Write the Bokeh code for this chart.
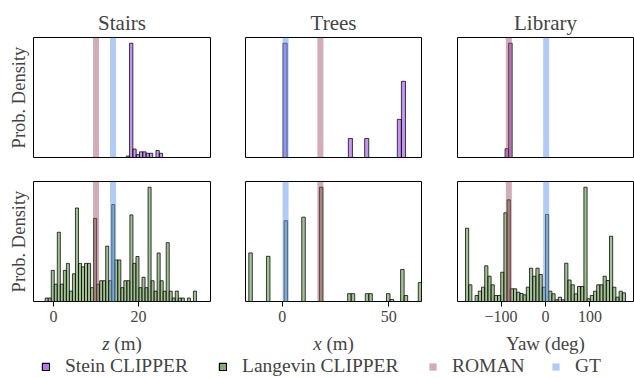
import numpy as np
from bokeh.plotting import figure
from bokeh.models import (Range1d, FixedTicker, Span, Legend, LegendItem, CustomJSTickFormatter,
                          ColumnDataSource, Label)
from bokeh.layouts import column, row
from bokeh.embed import file_html
from bokeh.resources import INLINE

FONT = "Liberation Serif"

# ---------------- data ----------------
titles = ["Stairs", "Trees", "Library"]
x_label_var = ["z", "x", None]          # italic variable part of each x label
x_label_rest = ["(m)", "(m)", "Yaw (deg)"]
y_label = "Prob. Density"
x_ticks = [[0, 20], [0, 50], [-100, 0, 100]]
x_limits = [(-4.7, 36.9), (-17.2, 65.3), (-198.0, 198.0)]
roman_est = [10.0, 17.9, -82.5]
gt_val = [14.0, 1.6, 1.5]
series_names = ["Stein CLIPPER", "Langevin CLIPPER", "ROMAN", "GT"]

# Stein CLIPPER histograms (top row): bin start, bin width, heights
stein_stairs_start, stein_stairs_width = 17.1, 0.776
stein_stairs = [1, 81, 6, 2, 4, 4, 3, 3, 0, 5, 3]
stein_trees_start, stein_trees_width = 0.4, 1.913
stein_trees = [6, 0, 0, 0, 0, 0, 0, 0, 0, 0,
               0, 0, 0, 0, 0, 0, 1, 0, 0, 0,
               1, 0, 0, 0, 0, 0, 0, 0, 2, 4]
stein_library_start, stein_library_width = -91.0, 8.0
stein_library = [1, 13]

# Langevin CLIPPER histograms (bottom row)
lang_stairs_start, lang_stairs_width = -1.95, 0.711
lang_stairs = [1, 1, 9, 5, 20, 5, 9, 11, 3, 8,
               27, 11, 10, 11, 11, 4, 24, 5, 6, 6,
               16, 6, 28, 12, 12, 4, 6, 6, 25, 11,
               13, 4, 7, 4, 33, 6, 3, 14, 6, 3,
               17, 3, 1, 3, 1, 1, 0, 1, 0, 3]
lang_trees_start, lang_trees_width = -15.66, 1.655
lang_trees = [24.2, 0, 0, 0, 0, 22.5, 0, 0, 0, 0,
              40.2, 0, 0, 0, 0, 42.0, 0, 0, 0, 0,
              56.9, 0, 0, 0, 0, 0, 0, 0, 3.9, 3.9,
              0, 0, 0, 3.9, 3.9, 0, 0, 0, 0, 3.9,
              1.0, 0, 0, 15.9, 3.0, 0, 0, 0, 9.4, 0]
lang_library_start, lang_library_width = -180.0, 7.2
lang_library = [73.3, 16.7, 0, 6, 10.3, 14.3, 35.7, 25.3, 16.7, 6,
                6, 29.3, 88.7, 101.7, 12.7, 12.7, 9.3, 8.0, 6.7, 14.3,
                33.3, 25.3, 33.3, 27, 14.3, 87, 10.3, 7.7, 1.7, 4.3,
                1.7, 38.3, 21.5, 16.7, 7.7, 15, 15, 114.3, 2.7, 6,
                10.3, 16.7, 16.7, 25.3, 21, 65.3, 14.3, 4.3, 10.3, 8.7]

stein_hists = [(stein_stairs_start, stein_stairs_width, stein_stairs),
               (stein_trees_start, stein_trees_width, stein_trees),
               (stein_library_start, stein_library_width, stein_library)]
lang_hists = [(lang_stairs_start, lang_stairs_width, lang_stairs),
              (lang_trees_start, lang_trees_width, lang_trees),
              (lang_library_start, lang_library_width, lang_library)]

# ---------------- style / layout ----------------
STEIN_FILL = "#8a2be2"
STEIN_ALPHA = 0.5
LANG_FILL = "#6f9f58"
LANG_ALPHA = 0.65
ROMAN_COL = "#9c4a62"
ROMAN_ALPHA = 0.45
GT_COL = "#6495ed"
GT_ALPHA = 0.5

col_width = [227, 212, 195]
col_bl = [33, 18, 18]
col_br = [17, 18, 1]
TOP_H, BOT_H, STRIP_H = 169, 164, 44


def hist_source(start, width, counts):
    c = np.asarray(counts, dtype=float)
    left = start + width * np.arange(len(c))
    keep = c > 0
    return ColumnDataSource(dict(left=left[keep], right=(left + width)[keep],
                                 top=c[keep], bottom=np.zeros(int(keep.sum()))))


def minus_fmt():
    return CustomJSTickFormatter(code="return tick < 0 ? '\u2212' + Math.abs(tick) : tick.toString();")


def make_panel(j, hist, fill, alpha, top_row):
    start, width, counts = hist
    ymax = max(counts) * 1.05
    kw = dict(title=titles[j]) if top_row else {}
    p = figure(width=col_width[j], height=TOP_H if top_row else BOT_H,
               output_backend="svg", toolbar_location=None,
               x_range=Range1d(*x_limits[j]), y_range=Range1d(0, ymax),
               min_border_left=col_bl[j], min_border_right=col_br[j],
               min_border_top=37 if top_row else 12,
               min_border_bottom=12 if top_row else 32, **kw)
    p.grid.visible = False
    p.outline_line_color = "black"
    p.outline_line_width = 1
    p.outline_line_alpha = 1
    p.background_fill_color = "white"
    p.border_fill_color = "white"
    p.quad(left="left", right="right", top="top", bottom="bottom",
           source=hist_source(start, width, counts),
           fill_color=fill, fill_alpha=alpha, line_color="black", line_alpha=0.75, line_width=1)
    p.add_layout(Span(location=roman_est[j], dimension="height", line_color=ROMAN_COL,
                      line_alpha=ROMAN_ALPHA, line_width=6))
    p.add_layout(Span(location=gt_val[j], dimension="height", line_color=GT_COL,
                      line_alpha=GT_ALPHA, line_width=6))
    if top_row:
        p.title.text_font = FONT
        p.title.text_font_size = "21px"
        p.title.text_font_style = "normal"
        p.title.align = "center"
        p.title.standoff = 5
        p.xaxis.visible = False
    else:
        ax = p.xaxis[0]
        ax.ticker = FixedTicker(ticks=x_ticks[j])
        ax.formatter = minus_fmt()
        ax.axis_line_color = None
        ax.major_tick_out = 5
        ax.major_tick_in = 0
        ax.minor_tick_line_color = None
        ax.major_tick_line_color = "black"
        ax.major_label_text_font = FONT
        ax.major_label_text_font_size = "16px"
        ax.major_label_standoff = 4
    if j == 0:
        ay = p.yaxis[0]
        ay.ticker = FixedTicker(ticks=[])
        ay.axis_line_color = None
        ay.major_tick_out = 0
        ay.major_tick_in = 0
        ay.minor_tick_line_color = None
        ay.major_label_text_font_size = "0px"
        ay.axis_label = y_label
        ay.axis_label_text_font = FONT
        ay.axis_label_text_font_size = "18.5px"
        ay.axis_label_text_font_style = "normal"
        ay.axis_label_standoff = 5
    else:
        p.yaxis.visible = False
    return p


top = [make_panel(j, stein_hists[j], STEIN_FILL, STEIN_ALPHA, True) for j in range(3)]
bot = [make_panel(j, lang_hists[j], LANG_FILL, LANG_ALPHA, False) for j in range(3)]

# ---------------- bottom strip: x-axis labels + legend ----------------
lf = figure(width=634, height=STRIP_H, output_backend="svg", toolbar_location=None,
            x_range=Range1d(1000, 1001), y_range=Range1d(0, 1), min_border=0)
lf.axis.visible = False
lf.grid.visible = False
lf.outline_line_color = None
lf.background_fill_color = "white"
lf.border_fill_color = "white"

# x-axis labels, centred under each panel frame
LBL_PX = 19
frame_left = [col_bl[0], col_width[0] + col_bl[1], col_width[0] + col_width[1] + col_bl[2]]
frame_w = [col_width[j] - col_bl[j] - col_br[j] for j in range(3)]
var_em = {"z": 0.389, "x": 0.444}
for j in range(3):
    cx = frame_left[j] + frame_w[j] / 2
    if x_label_var[j] is None:
        lf.add_layout(Label(x=cx, y=34, x_units="screen", y_units="screen", text=x_label_rest[j],
                            text_font=FONT, text_font_size=f"{LBL_PX}px", text_align="center",
                            text_baseline="middle"))
    else:
        w_var = var_em[x_label_var[j]] * LBL_PX
        w_sp = 0.25 * LBL_PX
        w_rest = 1.444 * LBL_PX
        x0 = cx - (w_var + w_sp + w_rest) / 2
        lf.add_layout(Label(x=x0, y=34, x_units="screen", y_units="screen", text=x_label_var[j],
                            text_font=FONT, text_font_size=f"{LBL_PX}px", text_font_style="italic",
                            text_align="left", text_baseline="middle"))
        lf.add_layout(Label(x=x0 + w_var + w_sp, y=34, x_units="screen", y_units="screen",
                            text=x_label_rest[j], text_font=FONT, text_font_size=f"{LBL_PX}px",
                            text_align="left", text_baseline="middle"))

# legend proxies (their data lie outside this strip's x range, so only the legend shows them)
proxy_src = hist_source(*stein_hists[0])
q = dict(left="left", right="right", top="top", bottom="bottom", source=proxy_src)
r_stein = lf.quad(**q, fill_color=STEIN_FILL, fill_alpha=0.65, line_color="black", line_width=1.2)
r_lang = lf.quad(**q, fill_color=LANG_FILL, fill_alpha=0.85, line_color="black", line_width=1.2)
r_roman = lf.quad(**q, fill_color=ROMAN_COL, fill_alpha=ROMAN_ALPHA, line_color=None)
r_gt = lf.quad(**q, fill_color=GT_COL, fill_alpha=GT_ALPHA, line_color=None)
leg_x = [41, 218, 428, 551]
for name, r, x in zip(series_names, [r_stein, r_lang, r_roman, r_gt], leg_x):
    lg = Legend(items=[LegendItem(label=name, renderers=[r])], location=(x, 0),
                orientation="horizontal", glyph_width=9, glyph_height=9,
                label_standoff=15, padding=0, margin=0, spacing=0,
                border_line_color=None, background_fill_alpha=0,
                label_text_font=FONT, label_text_font_size="19.5px",
                label_height=20, label_text_baseline="middle")
    lf.add_layout(lg)

layout = column(row(*top), row(*bot), lf)
open("out.html", "w").write(file_html(layout, INLINE))
